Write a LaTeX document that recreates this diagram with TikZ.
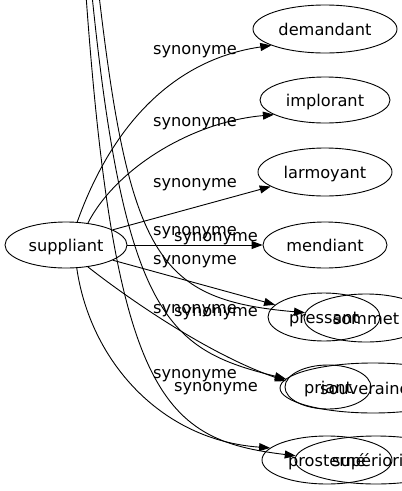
\documentclass[tikz,border=0pt]{standalone}
\usepackage{fontspec}
\setmainfont{DejaVu Sans}
\usetikzlibrary{shapes.geometric,arrows.meta}

\begin{document}
\begin{tikzpicture}
[x=1pt,y=-1pt,line width=0.9pt,
 word/.style={ellipse,draw,inner sep=0pt,text height=12.3pt,text depth=0pt},
 rel/.style={inner sep=0pt},
 syn/.style={-{Triangle[length=11pt,width=8pt]}}]
\fontsize{16.2pt}{19pt}\selectfont
\useasboundingbox (0,0) rectangle (402,491);
% words
\node[word,minimum width=122pt,minimum height=46pt] (suppliant) at (66,245) {suppliant};
\node[word,minimum width=144pt,minimum height=48pt] (demandant) at (325,29) {demandant};
\node[word,minimum width=130pt,minimum height=46pt] (implorant) at (325,100) {implorant};
\node[word,minimum width=134pt,minimum height=48pt] (larmoyant) at (325,172) {larmoyant};
\node[word,minimum width=124pt,minimum height=46pt] (mendiant) at (325,245) {mendiant};
\node[word,minimum width=112pt,minimum height=48pt] (pressant) at (324,317) {pressant};
\node[word,minimum width=124pt,minimum height=48pt] (sommet) at (366,318) {sommet};
\node[word,minimum width=86pt,minimum height=44pt] (priant) at (328,387) {priant};
\node[word,minimum width=186pt,minimum height=50pt] (souverainete) at (373,388) {souveraineté};
\node[word,minimum width=130pt,minimum height=48pt] (prosterne) at (327,460) {prosterné};
\node[word,minimum width=162pt,minimum height=48pt] (superiorite) at (376,460) {supériorité};
% free ends above the top
\coordinate (srcP) at (86,-5);
\coordinate (srcV) at (92,-5);
\coordinate (srcS) at (99,-5);
% edges
\draw[syn] (suppliant.64) .. controls (110,130) and (170,60) .. (demandant.197);
\draw[syn] (suppliant.45) .. controls (115,170) and (190,122) .. (implorant.196);
\draw[syn] (suppliant.18) -- (larmoyant.195);
\draw[syn] (suppliant.east) -- (mendiant.west);
\draw[syn] (suppliant.342) -- (pressant.166);
\draw[syn] (suppliant.315) .. controls (130,300) and (210,355) .. (priant.172);
\draw[syn] (suppliant.295) .. controls (90,360) and (160,440) .. (prosterne.168);
\draw[syn] (srcS) .. controls (130,260) and (160,300) .. (sommet.175);
\draw[syn] (srcV) .. controls (125,320) and (170,350) .. (souverainete.174);
\draw[syn] (srcP) .. controls (115,400) and (165,440) .. (superiorite.177);
% labels
\node[rel] (rdemandant) at (195,52) {synonyme};
\node[rel] (rimplorant) at (195,124) {synonyme};
\node[rel] (rlarmoyant) at (195,185) {synonyme};
\node[rel] (rmendiant) at (195,233) {synonyme};
\node[rel] (rsommet) at (216,239) {synonyme};
\node[rel] (rpressant) at (195,262) {synonyme};
\node[rel] (rpriant) at (195,311) {synonyme};
\node[rel] (rsouverainete) at (216,314) {synonyme};
\node[rel] (rprosterne) at (195,376) {synonyme};
\node[rel] (rsuperiorite) at (216,389) {synonyme};
\end{tikzpicture}
\end{document}
